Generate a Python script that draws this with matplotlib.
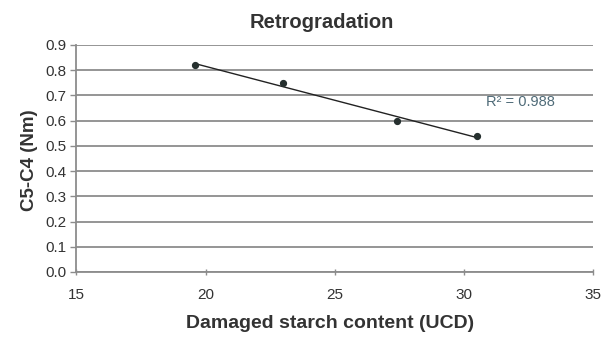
import numpy as np
import matplotlib
matplotlib.use("Agg")
import matplotlib.pyplot as plt

plt.rcParams['font.family'] = ['Liberation Sans', 'DejaVu Sans']

# Data
damaged_starch = [19.6, 23.0, 27.4, 30.5]
c5_c4 = [0.82, 0.75, 0.60, 0.54]
r2_label = "R² = 0.988"
x_ticks = [15, 20, 25, 30, 35]
y_ticks = [0.0, 0.1, 0.2, 0.3, 0.4, 0.5, 0.6, 0.7, 0.8, 0.9]

title = "Retrogradation"
xlabel = "Damaged starch content (UCD)"
ylabel = "C5-C4 (Nm)"

fig = plt.figure(figsize=(6.10, 3.38), dpi=100)
ax = fig.add_axes([0.1254, 0.1953, 0.8467, 0.6716])

text_col = '#333333'
grid_col = '#8c8c8c'

ax.set_ylim(0, 0.9)
ax.set_xlim(15, 35)
ax.set_yticks(y_ticks)
ax.set_xticks(x_ticks)
ax.yaxis.grid(True, color=grid_col, linewidth=1.3)
ax.set_axisbelow(True)

# trendline
xs = np.array(damaged_starch)
ys = np.array(c5_c4)
slope, intercept = np.polyfit(xs, ys, 1)
xl = np.array([xs.min(), xs.max()])
ax.plot(xl, slope * xl + intercept, color='#222222', linewidth=1.0, zorder=3)

# points
ax.plot(xs, ys, linestyle='none', marker='o', markersize=4.2,
        color='#26302f', zorder=4)

ax.text(30.85, 0.675, r2_label, color='#4f6b78', fontsize=10.5,
        ha='left', va='center')

for s in ['top', 'right']:
    ax.spines[s].set_visible(False)
for s in ['left', 'bottom']:
    ax.spines[s].set_color(grid_col)
    ax.spines[s].set_linewidth(1.3)

ax.tick_params(axis='y', direction='out', length=4, width=1, color=grid_col,
               labelsize=11, labelcolor=text_col, pad=3)
ax.tick_params(axis='x', direction='inout', length=5, width=1, color=grid_col,
               labelsize=11, labelcolor=text_col, pad=9)
ax.set_yticklabels([f"{v:.1f}" for v in y_ticks])
ax.set_xticklabels([str(v) for v in x_ticks])

fig.text(322 / 610, 1 - 23 / 338, title, ha='center', va='center',
         fontsize=14.5, fontweight='bold', color=text_col)
fig.text(330 / 610, 1 - 323 / 338, xlabel, ha='center', va='center',
         fontsize=14, fontweight='bold', color=text_col)
fig.text(30 / 610, 1 - 160 / 338, ylabel, ha='center', va='center',
         rotation=90, fontsize=13.5, fontweight='bold', color=text_col)

fig.savefig('out.png', dpi=100, facecolor='white')
